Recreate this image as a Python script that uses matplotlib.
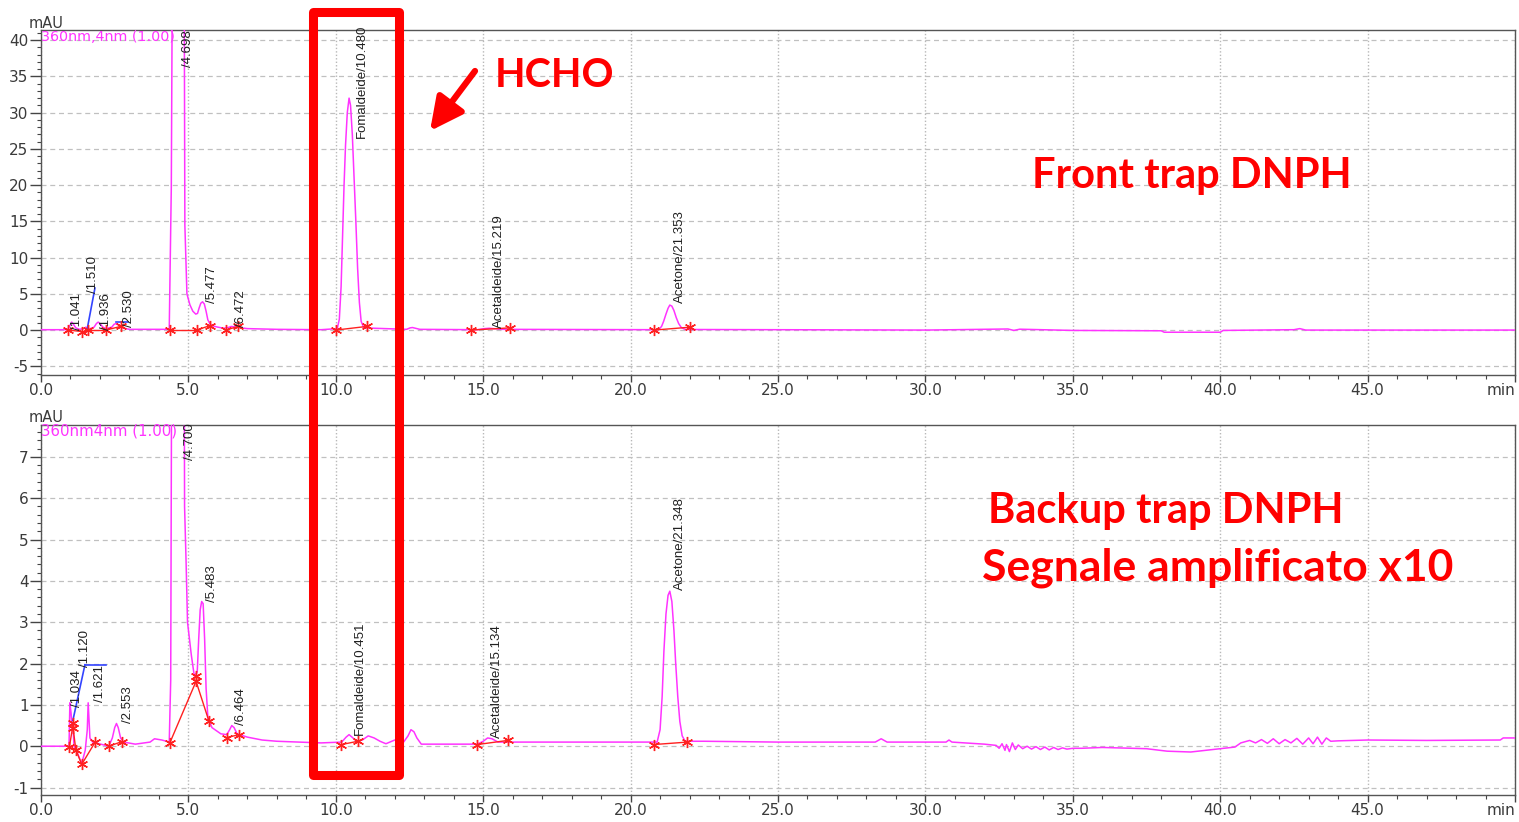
import matplotlib
matplotlib.use("Agg")
import matplotlib.pyplot as plt
from matplotlib.patches import Rectangle
from matplotlib.ticker import FixedLocator, MultipleLocator

W, H = 1519, 822

# ---------------- data: top chromatogram (front trap) ----------------
t_top = [0.0, 0.9, 0.98, 1.04, 1.1, 1.18, 1.3, 1.45, 1.52, 1.6, 1.8, 1.88, 1.94, 2.0, 2.1, 2.2,
         2.4, 2.48, 2.55, 2.62, 2.75, 3.0,
         4.35, 4.42, 4.45, 4.86, 4.88, 4.95, 5.05, 5.15, 5.25, 5.31, 5.36, 5.42, 5.48, 5.54, 5.6,
         5.66, 5.74, 5.85, 6.0, 6.2, 6.35, 6.45, 6.55, 6.7, 7.0, 8.0, 9.5,
         10.05, 10.12, 10.18, 10.23, 10.28, 10.33, 10.39, 10.45, 10.5, 10.56, 10.62, 10.68, 10.74,
         10.8, 10.86, 10.95, 12.4, 12.52, 12.6, 12.7, 12.85, 14.8, 15.05, 15.2, 15.35, 15.6,
         20.95, 21.05, 21.12, 21.2, 21.27, 21.33, 21.4, 21.47, 21.55, 21.63, 21.72, 21.85,
         30.0, 31.0, 32.8, 33.0, 33.2, 35.0, 38.0, 38.1, 40.0, 40.1, 42.5, 42.7, 42.9, 45.0, 50.0]
s_top = [0.05, 0.05, 0.6, 1.1, 0.8, 0.3, 0.1, 0.2, 0.4, 0.1, 0.4, 0.9, 1.1, 0.9, 0.4, 0.2,
         0.4, 0.8, 0.9, 0.7, 0.3, 0.1,
         0.1, 19.7, 45.0, 45.0, 14.5, 5.0, 3.5, 2.6, 2.2, 2.3, 3.0, 3.7, 3.9, 3.6, 2.6,
         1.4, 0.8, 0.55, 0.4, 0.25, 0.35, 0.5, 0.45, 0.35, 0.2, 0.1, 0.05,
         0.2, 1.5, 6.0, 13.0, 20.0, 25.5, 30.0, 32.0, 31.0, 27.0, 21.0, 15.0, 8.5,
         3.8, 1.2, 0.3, 0.1, 0.3, 0.35, 0.25, 0.1, 0.05, 0.2, 0.25, 0.2, 0.1,
         0.05, 0.5, 1.2, 2.2, 3.0, 3.45, 3.3, 2.7, 1.7, 0.9, 0.35, 0.08,
         0.0, 0.05, 0.15, -0.05, 0.12, -0.05, -0.1, -0.3, -0.3, -0.05, 0.05, 0.2, 0.0, 0.0, 0.0]

top_marks_t = [0.93, 1.38, 1.58, 2.2, 2.7, 4.37, 5.28, 5.72, 6.27, 6.68, 10.0, 11.05, 14.58, 15.9, 20.8, 22.03]
top_marks_y = [0.0, -0.2, 0.0, 0.0, 0.5, 0.0, 0.0, 0.6, 0.0, 0.5, 0.0, 0.5, 0.0, 0.3, 0.0, 0.4]
top_base_seg = [(0, 1), (2, 3), (3, 4), (5, 6), (6, 7), (8, 9), (10, 11), (12, 13), (14, 15)]
top_blue_t = [[1.56, 1.83], [2.54, 2.95]]
top_blue_y = [[0.0, 5.8], [1.1, 1.1]]

top_labels = ["/1.041", "/1.510", "/1.936", "/2.530", "/4.698", "/5.477", "/6.472",
              "Fomaldeide/10.480", "Acetaldeide/15.219", "Acetone/21.353"]
top_label_t = [1.22, 1.75, 2.2, 3.0, 5.0, 5.8, 6.77, 10.87, 15.55, 21.66]
top_label_y = [0.0, 5.1, 0.0, 0.4, 36.3, 3.7, 0.4, 26.5, 0.3, 3.7]

# ---------------- data: bottom chromatogram (backup trap, x10) ----------------
t_bot = [0.0, 0.95, 0.98, 1.02, 1.05, 1.08, 1.12, 1.2, 1.38, 1.5, 1.57, 1.6, 1.66, 1.75,
         2.3, 2.42, 2.5, 2.56, 2.62, 2.7, 2.8, 3.2, 3.7, 3.85, 4.1, 4.35, 4.40, 4.43, 4.86, 4.87,
         4.92, 4.97, 5.1, 5.2, 5.3, 5.35, 5.4, 5.45, 5.5, 5.55, 5.6, 5.66, 5.8, 6.1, 6.3, 6.4,
         6.47, 6.55, 6.65, 7.0, 7.5, 8.0, 9.5, 10.2, 10.35, 10.45, 10.55, 10.7, 10.9, 11.1, 11.3,
         11.5, 11.7, 12.0, 12.3, 12.45, 12.55, 12.65, 12.75, 12.9,
         14.8, 15.0, 15.15, 15.3, 15.5,
         20.9, 21.0, 21.07, 21.13, 21.2, 21.27, 21.33, 21.4, 21.47, 21.53, 21.6, 21.67, 21.75,
         21.85, 22.5, 25.0,
         28.3, 28.5, 28.7, 30.0, 30.7, 30.8, 30.9, 32.0,
         32.4, 32.5, 32.6, 32.7, 32.75, 32.85, 32.95, 33.05, 33.15, 33.3, 33.45, 33.6, 33.75,
         33.9, 34.05, 34.2, 34.35, 34.5, 34.65, 34.8, 35.0, 35.3,
         36.0, 37.5, 38.2, 39.0, 40.0, 40.5, 40.7,
         40.8, 41.0, 41.2, 41.4, 41.6, 41.8, 42.0, 42.2, 42.4, 42.6, 42.8, 43.0, 43.15, 43.3,
         43.45, 43.6, 43.75,
         44.0, 45.0, 47.0, 49.5, 49.6, 50.0]
s_bot = [0.0, 0.0, 1.05, 0.8, 0.5, 0.55, 0.0, -0.1, -0.42, -0.1, 0.4, 1.05, 0.2, 0.1,
         0.0, 0.2, 0.45, 0.55, 0.45, 0.2, 0.1, 0.05, 0.1, 0.18, 0.15, 0.1, 1.6, 9.0, 9.0, 5.8,
         4.5, 3.0, 2.2, 1.7, 1.8, 2.6, 3.3, 3.5, 3.45, 2.6, 1.4, 0.7, 0.45, 0.3, 0.28, 0.4,
         0.5, 0.45, 0.3, 0.22, 0.15, 0.12, 0.08, 0.1, 0.22, 0.28, 0.22, 0.12, 0.15, 0.25, 0.2,
         0.12, 0.06, 0.15, 0.1, 0.25, 0.4, 0.35, 0.2, 0.05,
         0.05, 0.12, 0.2, 0.18, 0.1,
         0.1, 0.4, 1.2, 2.3, 3.2, 3.65, 3.75, 3.5, 2.8, 2.0, 1.2, 0.6, 0.25,
         0.12, 0.12, 0.1,
         0.1, 0.18, 0.1, 0.1, 0.1, 0.15, 0.1, 0.05,
         0.02, -0.05, 0.06, -0.1, 0.04, -0.13, 0.08, -0.08, 0.03, -0.06, 0.0, -0.07, -0.01,
         -0.08, -0.02, -0.09, -0.03, -0.08, -0.04, -0.07, -0.05, -0.05,
         -0.03, -0.06, -0.12, -0.14, -0.06, -0.02, 0.08,
         0.1, 0.14, 0.08, 0.16, 0.07, 0.18, 0.06, 0.16, 0.08, 0.19, 0.05, 0.2, 0.06, 0.22,
         0.05, 0.2, 0.12,
         0.13, 0.15, 0.14, 0.15, 0.2, 0.2]

bot_marks_t = [0.96, 1.07, 1.07, 1.18, 1.38, 1.83, 2.3, 2.74, 4.37, 5.26, 5.26, 5.7, 6.3, 6.72,
               10.19, 10.75, 14.8, 15.83, 20.78, 21.93]
bot_marks_y = [-0.03, 0.45, 0.55, -0.08, -0.44, 0.09, 0.0, 0.11, 0.08, 1.57, 1.7, 0.6, 0.21, 0.28,
               0.04, 0.12, 0.04, 0.14, 0.04, 0.1]
bot_base_seg = [(0, 1), (2, 3), (3, 4), (4, 5), (6, 7), (8, 9), (9, 11), (12, 13), (14, 15),
                (16, 17), (18, 19)]
bot_blue_t = [[1.08, 1.49], [1.49, 2.2]]
bot_blue_y = [[0.62, 1.97], [1.97, 1.97]]

bot_labels = ["/1.034", "/1.120", "/1.621", "/2.553", "/4.700", "/5.483", "/6.464",
              "Fomaldeide/10.451", "Acetaldeide/15.134", "Acetone/21.348"]
bot_label_t = [1.23, 1.5, 2.0, 2.96, 5.06, 5.8, 6.77, 10.8, 15.48, 21.68]
bot_label_y = [0.96, 1.92, 1.08, 0.57, 6.93, 3.5, 0.52, 0.28, 0.21, 3.78]

x_ticks = [0, 5, 10, 15, 20, 25, 30, 35, 40, 45, 50]
x_ticklabels = ["0.0", "5.0", "10.0", "15.0", "20.0", "25.0", "30.0", "35.0", "40.0", "45.0", "min"]
top_yticks = [-5, 0, 5, 10, 15, 20, 25, 30, 35, 40]
bot_yticks = [-1, 0, 1, 2, 3, 4, 5, 6, 7]

# ---------------- figure ----------------
TRACE = "#ff33ff"
fig = plt.figure(figsize=(W / 100, H / 100), dpi=100)
ax1 = fig.add_axes([41 / W, 1 - 375 / H, 1474 / W, 345 / H])
ax2 = fig.add_axes([41 / W, 1 - 795 / H, 1474 / W, 370 / H])


def style(ax, yticks, ylim, yminor):
    ax.set_xlim(0, 50)
    ax.set_ylim(*ylim)
    ax.xaxis.set_major_locator(FixedLocator(x_ticks))
    ax.set_xticklabels(x_ticklabels)
    ax.xaxis.set_minor_locator(MultipleLocator(1))
    ax.yaxis.set_major_locator(FixedLocator(yticks))
    ax.set_yticklabels([str(v) for v in yticks])
    ax.yaxis.set_minor_locator(MultipleLocator(yminor))
    ax.tick_params(axis="x", which="major", direction="out", length=5, width=1,
                   color="#444444", labelsize=11, labelcolor="#3a3a3a", pad=0.5)
    ax.tick_params(axis="y", which="major", direction="out", length=8, width=1,
                   color="#444444", labelsize=11, labelcolor="#3a3a3a", pad=1)
    ax.tick_params(axis="both", which="minor", direction="out", length=3, width=0.8,
                   color="#444444")
    ax.grid(axis="y", which="major", linestyle=(0, (4, 3)), color="#c0c0c0", lw=0.9)
    ax.grid(axis="x", which="major", linestyle=(0, (1, 1.5)), color="#b8b8b8", lw=1.0)
    for s in ax.spines.values():
        s.set_color("#555555")
        s.set_linewidth(1.0)
    ax.get_xticklabels()[-1].set_horizontalalignment("right")
    ax.set_axisbelow(True)


style(ax1, top_yticks, (-6.2, 41.4), 1)
style(ax2, bot_yticks, (-1.18, 7.77), 0.2)

for ax, t, s, mt, my, seg, bt, by, labs, lt, ly in [
        (ax1, t_top, s_top, top_marks_t, top_marks_y, top_base_seg, top_blue_t, top_blue_y,
         top_labels, top_label_t, top_label_y),
        (ax2, t_bot, s_bot, bot_marks_t, bot_marks_y, bot_base_seg, bot_blue_t, bot_blue_y,
         bot_labels, bot_label_t, bot_label_y)]:
    ax.plot(t, s, color=TRACE, lw=1.1, zorder=3)
    for a, b in seg:
        ax.plot([mt[a], mt[b]], [my[a], my[b]], color="#ff2020", lw=1.0, zorder=4)
    ax.plot(mt, my, linestyle="none", marker=(6, 2, 0), ms=8, mew=1.0, color="#ff2020", zorder=5)
    for xx, yy in zip(bt, by):
        ax.plot(xx, yy, color="#3344ff", lw=1.2, zorder=4)
    for lab, x0, y0 in zip(labs, lt, ly):
        ax.text(x0, y0, lab, rotation=90, ha="center", va="bottom", fontsize=9.5,
                family="Liberation Sans", color="#202020", zorder=6, clip_on=False)

fig.text(29 / W, 1 - 23 / H, "mAU", fontsize=10.5, color="#3a3a3a", ha="left", va="center")
fig.text(29 / W, 1 - 417 / H, "mAU", fontsize=10.5, color="#3a3a3a", ha="left", va="center")
fig.text(41 / W, 1 - 37 / H, "360nm,4nm (1.00)", fontsize=10.3, color=TRACE, ha="left", va="center")
fig.text(41 / W, 1 - 431 / H, "360nm4nm (1.00)", fontsize=10.8, color=TRACE, ha="left", va="center")

# ---------------- red annotations ----------------
RED = "#ff0000"
rect = Rectangle((313 / W, 1 - 775 / H), 86 / W, 763 / H, transform=fig.transFigure,
                 fill=False, edgecolor=RED, lw=6.5, joinstyle="round", zorder=10)
fig.patches.append(rect)

ann = fig.add_axes([0, 0, 1, 1], facecolor="none")
ann.set_xlim(0, W)
ann.set_ylim(H, 0)
ann.axis("off")
ann.annotate("", xy=(430, 131), xytext=(475, 71),
             arrowprops=dict(arrowstyle="-|>,head_length=0.9,head_width=0.45", lw=4.5,
                             color=RED, shrinkA=0, shrinkB=0, mutation_scale=22))
bold = dict(family="Lato", weight="bold", color=RED)
ann.text(554, 87, "HCHO", fontsize=28.5, ha="center", va="baseline", **bold)
ann.text(1192, 188, "Front trap DNPH", fontsize=30, ha="center", va="baseline", **bold)
ann.text(1166, 523, "Backup trap DNPH", fontsize=30, ha="center", va="baseline", **bold)
ann.text(1218, 580, "Segnale amplificato x10", fontsize=32, ha="center", va="baseline", **bold)

fig.savefig("out.png", dpi=100)
